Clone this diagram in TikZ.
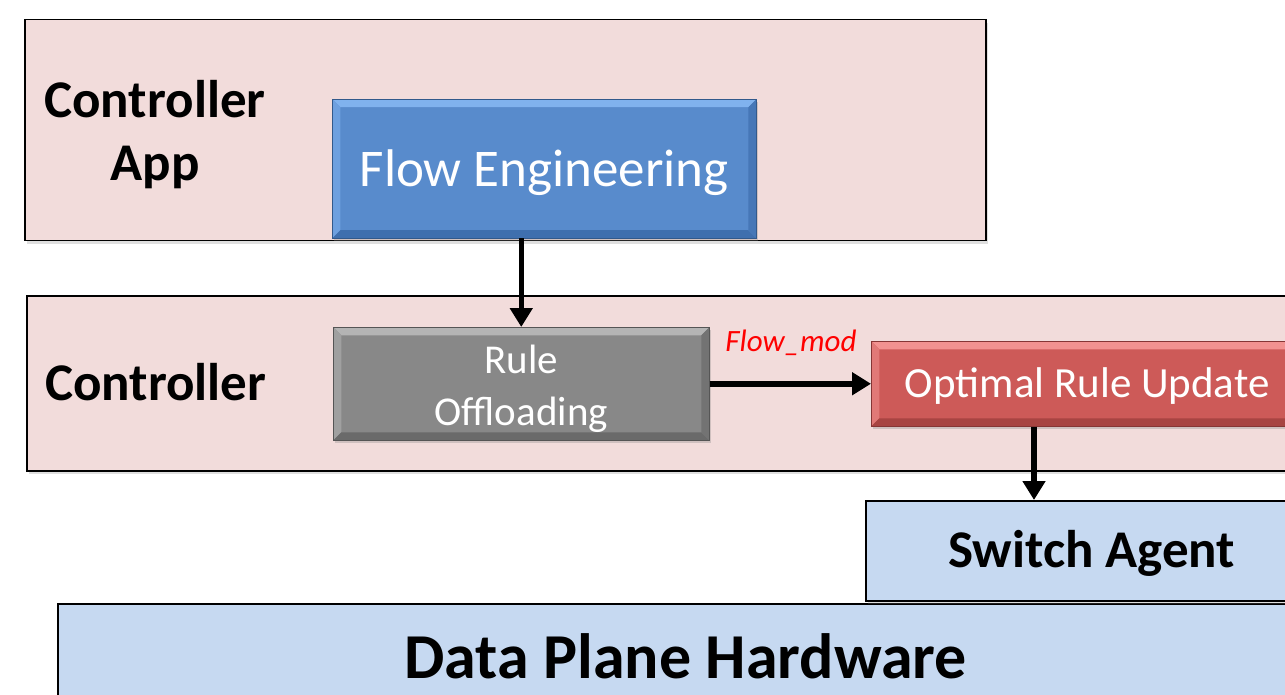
\documentclass[tikz,border=0pt]{standalone}
\usepackage{fontspec}
\setmainfont{Carlito}
\usetikzlibrary{arrows.meta,shadows}

\definecolor{layerpink}{HTML}{F2DCDB}
\definecolor{hwblue}{HTML}{C6D9F1}
\definecolor{feblue}{HTML}{588BCC}
\definecolor{feblueL}{HTML}{80B2EE}
\definecolor{feblueD}{HTML}{3F6FAE}
\definecolor{rogray}{HTML}{888888}
\definecolor{rograyL}{HTML}{B4B4B4}
\definecolor{rograyD}{HTML}{6A6A6A}
\definecolor{orred}{HTML}{CD5A58}
\definecolor{orredL}{HTML}{F29290}
\definecolor{orredD}{HTML}{A84442}

% shift a label up or down without changing the space it takes
\newcommand\nudge[2]{\raisebox{#1}[\height][\depth]{#2}}

\tikzset{
  layer/.style={draw=black, line width=1.5pt, fill=layerpink, inner sep=0pt,
    drop shadow={shadow xshift=2pt, shadow yshift=-3pt, opacity=0.25}},
  hwbox/.style={draw=black, line width=1.5pt, fill=hwblue, inner sep=0pt,
    drop shadow={shadow xshift=2pt, shadow yshift=-3pt, opacity=0.25}},
  bevel/.style n args={3}{fill=#1, draw=#3!80!black, line width=0.5pt, inner sep=0pt,
    drop shadow={shadow xshift=2pt, shadow yshift=-3pt, opacity=0.3},
    path picture={
      \fill[#2] (path picture bounding box.north west) -- (path picture bounding box.north east)
        -- ([xshift=-8pt,yshift=-8pt]path picture bounding box.north east)
        -- ([xshift=8pt,yshift=-8pt]path picture bounding box.north west) -- cycle;
      \fill[#2!55!#1] (path picture bounding box.north west) -- (path picture bounding box.south west)
        -- ([xshift=8pt,yshift=8pt]path picture bounding box.south west)
        -- ([xshift=8pt,yshift=-8pt]path picture bounding box.north west) -- cycle;
      \fill[#3] (path picture bounding box.south west) -- (path picture bounding box.south east)
        -- ([xshift=-8pt,yshift=8pt]path picture bounding box.south east)
        -- ([xshift=8pt,yshift=8pt]path picture bounding box.south west) -- cycle;
      \fill[#3!70!#1] (path picture bounding box.north east) -- (path picture bounding box.south east)
        -- ([xshift=-8pt,yshift=8pt]path picture bounding box.south east)
        -- ([xshift=-8pt,yshift=-8pt]path picture bounding box.north east) -- cycle;
    }},
  title/.style={font=\fontsize{53}{63}\selectfont\bfseries, inner sep=0pt, align=center},
  boxtext/.style={text=white, align=center},
  flow/.style={line width=5.5pt, -{Triangle[length=19pt,width=22pt]}},
}

\begin{document}
\begin{tikzpicture}[x=1pt,y=-1pt]
\useasboundingbox (0,0) rectangle (1285,695);
\clip (0,0) rectangle (1285,695);

% application layer
\node[layer, anchor=north west, minimum width=961pt, minimum height=221pt] (app) at (24,19) {};
\node[title] (apptitle) at (155,135) {Controller\\App};
\node[bevel={feblue}{feblueL}{feblueD}, boxtext, font=\fontsize{53}{63}\selectfont,
  anchor=north west, minimum width=424pt, minimum height=139pt] (fe) at (332,99)
  {\nudge{-4pt}{Flow Engineering}};

% controller layer
\node[layer, anchor=north west, minimum width=1320pt, minimum height=175pt] (ctl) at (26,295) {};
\node[title, anchor=base west] (ctltitle) at (45,400) {Controller};
\node[bevel={rogray}{rograyL}{rograyD}, boxtext, font=\fontsize{41}{52}\selectfont,
  anchor=north west, minimum width=376pt, minimum height=113pt] (ro) at (333,327)
  {\nudge{-5pt}{\begin{tabular}{@{}c@{}}Rule\\Offloading\end{tabular}}};
\node[bevel={orred}{orredL}{orredD}, boxtext, font=\fontsize{43}{50}\selectfont,
  anchor=north west, minimum width=432pt, minimum height=85pt] (oru) at (871,341)
  {\nudge{-2pt}{Optimal Rule Update}};

% switch side
\node[hwbox, anchor=north west, minimum width=1256pt, minimum height=130pt,
  font=\fontsize{64}{70}\selectfont\bfseries] (dp) at (57,603) {\nudge{12pt}{Data Plane Hardware}};
\node[hwbox, anchor=north west, minimum width=452pt, minimum height=100pt,
  font=\fontsize{53}{60}\selectfont\bfseries] (sa) at (865,500) {\nudge{-3pt}{Switch Agent}};

% connectors
\coordinate (down3) at (1034,0);
\draw[flow] (ro.north |- fe.south) -- (ro.north);
\draw[flow] (ro.east |- oru.west) -- (oru.west);
\draw[flow] (oru.south -| down3) -- (sa.north -| down3);
\node[text=red, font=\fontsize{31}{36}\selectfont\itshape, anchor=base, inner sep=0pt] (fm) at (791,351) {Flow\_mod};
\end{tikzpicture}
\end{document}
